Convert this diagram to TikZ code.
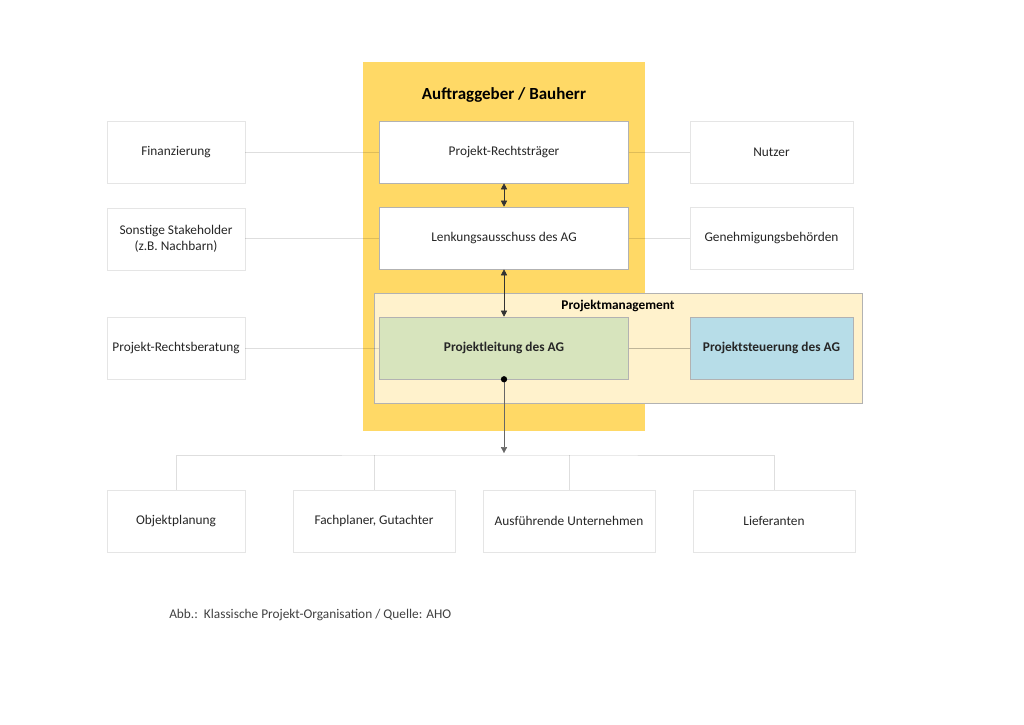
\documentclass[tikz,border=0pt]{standalone}
\usepackage{fontspec}
\setmainfont{Carlito}
\usetikzlibrary{arrows.meta,positioning}

\definecolor{agyellow}{HTML}{FFD966}
\definecolor{pmyellow}{HTML}{FFF2CC}
\definecolor{plgreen}{HTML}{D7E4BD}
\definecolor{psblue}{HTML}{B7DDE8}

\newcommand{\boxfont}{\fontsize{11}{13.5}\selectfont}

\begin{document}
\begin{tikzpicture}[
  x=0.029cm, y=-0.029cm,
  outer/.style={draw=black!10, fill=white, align=center, font=\boxfont, text=black!85, minimum height=1.8cm, minimum width=#1},
  inner/.style={draw=black!30, fill=white, align=center, font=\boxfont, text=black!85, minimum height=1.8cm, minimum width=7.22cm},
  faint/.style={draw=black, draw opacity=0.13},
  edge/.style={{Triangle[width=5pt,length=5pt]}-{Triangle[width=5pt,length=5pt]}, black!80},
  down/.style={-{Triangle[width=5pt,length=5pt]}, black!60}
]
  \useasboundingbox (0,0) rectangle (1024,724);
  % client frame and project management frame
  \node[fill=agyellow, minimum width=8.18cm, minimum height=10.7cm] (ag) at (504,246.5) {};
  \node[font=\fontsize{14}{16}\selectfont\bfseries] (aglabel) at (504,95) {Auftraggeber / Bauherr};
  \node[draw=black!30, fill=pmyellow, minimum width=14.15cm, minimum height=3.19cm] (pm) at (618,348) {};
  \node[font=\boxfont\bfseries] (pmlabel) at (618,306) {Projektmanagement};
  % client side
  \node[inner] (rt) at (504,152) {Projekt-Rechtsträger};
  \node[inner] (la) at (504,238) {Lenkungsausschuss des AG};
  \node[inner, fill=plgreen, font=\boxfont\bfseries] (pl) at (504,348) {Projektleitung des AG};
  \node[inner, fill=psblue, font=\boxfont\bfseries, minimum width=4.73cm] (ps) at (771.5,348) {Projektsteuerung des AG};
  % left and right parties
  \node[outer=4cm] (fi) at (176,152) {Finanzierung};
  \node[outer=4cm] (sh) at (176,239) {Sonstige Stakeholder\\(z.B. Nachbarn)};
  \node[outer=4cm] (rb) at (176,348) {Projekt-Rechtsberatung};
  \node[outer=4.73cm] (nu) at (771.5,152) {Nutzer};
  \node[outer=4.73cm] (gb) at (771.5,238) {Genehmigungsbehörden};
  % contractors
  \coordinate (bus) at (504,455);
  \node[outer=4cm] (op) at (176,521) {Objektplanung};
  \node[outer=4.7cm] (fp) at (374,521) {Fachplaner, Gutachter};
  \node[outer=4.99cm] (au) at (569,521) {Ausführende Unternehmen};
  \node[outer=4.7cm] (li) at (774,521) {Lieferanten};
  % connectors
  \draw[faint] (fi) -- (rt);
  \draw[faint] (sh.east |- la) -- (la);
  \draw[faint] (rb) -- (pl);
  \draw[faint] (rt) -- (nu);
  \draw[faint] (la) -- (gb);
  \draw[faint, draw opacity=0.25] (pl) -- (ps);
  \draw[faint] (op.north) |- (bus) -| (li.north);
  \draw[faint] (fp.north) -- (fp.north |- bus);
  \draw[faint] (au.north) -- (au.north |- bus);
  \draw[edge] (rt) -- (la);
  \draw[edge] (la) -- (pl);
  \draw[down] (pl.south) -- ([yshift=1.5pt]bus);
  \fill[black] (pl.south) circle (2.6pt);
  % caption
  \node[anchor=west, font=\boxfont, text=black!75] (cap) at (165,615) {Abb.:\ \ Klassische Projekt-Organisation / Quelle: AHO};
\end{tikzpicture}
\end{document}
